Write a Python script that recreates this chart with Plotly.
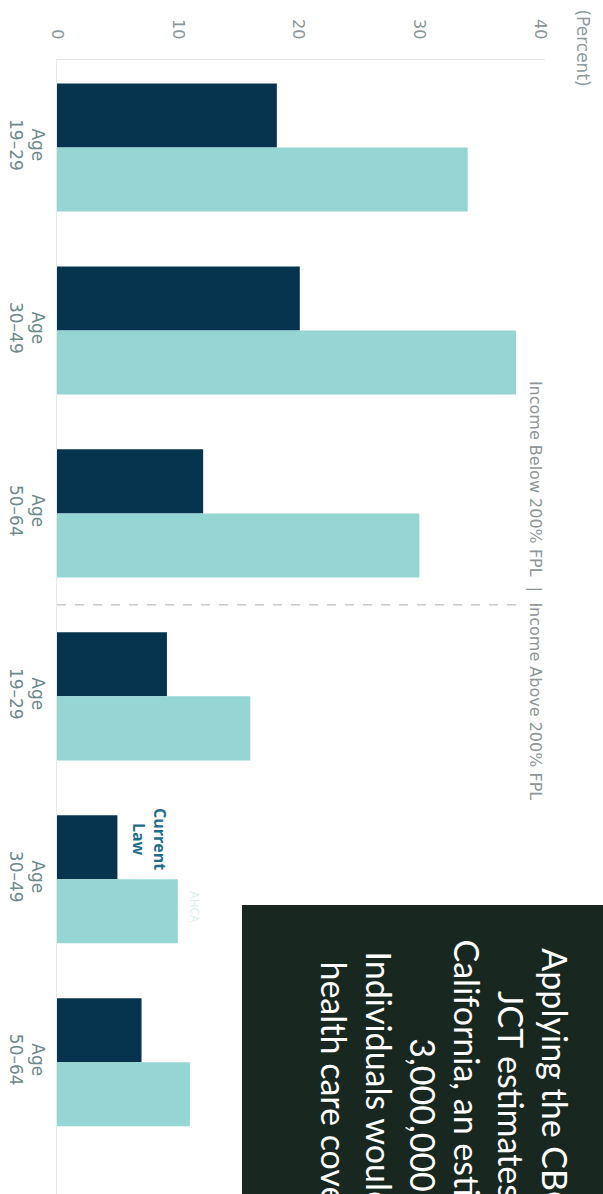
import plotly.graph_objects as go

# ---- data ----
categories = ["Age<br>19–29", "Age<br>30–49", "Age<br>50–64",
              "Age<br>19–29", "Age<br>30–49", "Age<br>50–64"]
current_law = [18.2, 20.1, 12.1, 9.1, 5.0, 7.0]
ahca = [34.0, 38.0, 30.0, 16.0, 10.0, 11.0]
x_ticks = [0, 10, 20, 30, 40]
divider_text = "Income Below 200% FPL  |  Income Above 200% FPL"
box_text = ("Applying the CBO and<br>JCT estimates to<br>California, an estimated<br>"
            "3,000,000<br>Individuals would lose<br>health care coverage")

dark = "#06344f"
light = "#95d5d4"
grey = "#8c9a9c"

idx = list(range(len(categories)))

fig = go.Figure()
fig.add_bar(y=idx, x=current_law, orientation="h", name="Current Law",
            marker=dict(color=dark, line=dict(width=0)))
fig.add_bar(y=idx, x=ahca, orientation="h", name="AHCA",
            marker=dict(color=light, line=dict(width=0)))

fig.update_layout(
    width=603, height=1194,
    margin=dict(l=57, r=58, t=60, b=0),
    paper_bgcolor="white", plot_bgcolor="white",
    barmode="group", bargap=0.3, bargroupgap=0,
    showlegend=False,
    font=dict(family="Liberation Sans", color=grey),
    xaxis=dict(side="top", range=[0, 40.4], tickvals=x_ticks,
               tickangle=90, showgrid=False, zeroline=False,
               showline=True, linecolor="#e3e6e3", linewidth=1,
               ticks="", ticklabelstandoff=14,
               tickfont=dict(size=16, color="#8a979a", family="DejaVu Sans")),
    yaxis=dict(range=[5.72, -0.478], tickvals=idx, ticktext=categories,
               tickangle=90, showgrid=False, zeroline=False,
               showline=True, linecolor="#e8ebe8", linewidth=1,
               ticks="", ticklabelstandoff=4,
               tickfont=dict(size=17, color="#6d8a8c", family="DejaVu Sans")),
)

# divider between income groups
fig.add_shape(type="line", xref="x", yref="y", x0=0, x1=38.5, y0=2.5, y1=2.5,
              line=dict(color="#a8b0b0", width=1, dash="dash"))
fig.add_annotation(x=39.6, y=2.42, xref="x", yref="y", text=divider_text,
                   textangle=90, showarrow=False, xanchor="center", yanchor="middle",
                   font=dict(size=16, color="#8e9699", family="DejaVu Sans"))

# axis unit
fig.add_annotation(x=1.078, y=1.011, xref="paper", yref="paper", text="(Percent)",
                   textangle=90, showarrow=False, xanchor="center", yanchor="middle",
                   font=dict(size=17, color="#8e9a9c", family="DejaVu Sans"))

# series labels
fig.add_annotation(x=7.7, y=3.78, xref="x", yref="y", text="<b>Current<br>Law</b>",
                   textangle=90, showarrow=False, xanchor="center", yanchor="middle",
                   font=dict(size=16, color="#1f6c8c", family="Open Sans"))
fig.add_annotation(x=11.4, y=4.15, xref="x", yref="y", text="AHCA",
                   textangle=90, showarrow=False, xanchor="center", yanchor="middle",
                   font=dict(size=12, color="#dcefef", family="Open Sans"))

# dark callout box
fig.add_shape(type="rect", xref="paper", yref="paper", x0=0.379, x1=1.25,
              y0=-0.1, y1=0.2549, fillcolor="#18271f", line=dict(width=0),
              layer="above")
fig.add_annotation(x=0.796, y=0.0697, xref="paper", yref="paper", text=box_text,
                   textangle=90, showarrow=False, xanchor="center", yanchor="middle",
                   align="center",
                   font=dict(size=34, color="white", family="Lato"))

fig.write_html("out.html")
